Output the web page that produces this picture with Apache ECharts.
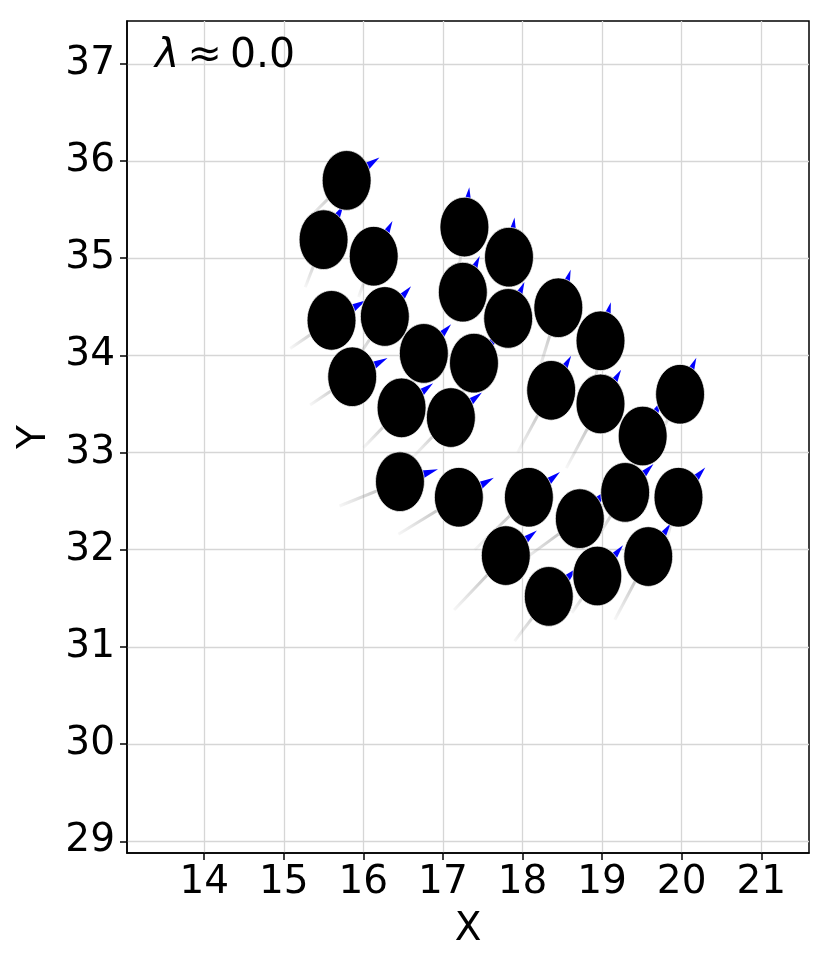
<!DOCTYPE html>
<html>
<head>
<meta charset="utf-8">
<script src="https://cdn.jsdelivr.net/npm/echarts@6/dist/echarts.min.js"></script>
<style>
  html, body { margin: 0; padding: 0; background: #fff; }
  #chart { width: 830px; height: 969px; }
</style>
</head>
<body>
<div id="chart"></div>
<script>
const agentX = [15.79, 15.50, 16.13, 17.27, 17.83, 17.25, 17.82, 18.45, 15.60, 16.27,
  16.76, 17.39, 18.98, 15.86, 18.36, 18.98, 19.98, 16.48, 17.10, 19.51,
  16.46, 17.20, 18.08, 18.72, 19.29, 19.96, 17.79, 19.58, 18.94, 18.33]
const agentY = [35.80, 35.19, 35.02, 35.32, 35.01, 34.65, 34.38, 34.49, 34.36, 34.40,
  34.02, 33.92, 34.15, 33.78, 33.64, 33.50, 33.60, 33.46, 33.36, 33.17,
  32.70, 32.54, 32.54, 32.32, 32.59, 32.54, 31.94, 31.93, 31.73, 31.52]
// heading as drawn on screen, degrees counter-clockwise from +x
const heading = [35, 60, 62, 83, 82, 65, 66, 72, 30, 49,
  47, 50, 75, 28, 60, 59, 66, 38, 39, 62,
  18, 29, 39, 46, 45, 48, 39, 56, 50, 45]
// where the faded trail behind each agent ends
const trailX = [15.30, 15.27, 15.94, 17.19, 17.80, 17.19, 17.59, 18.19, 15.08, 15.89,
  16.58, 17.21, 18.91, 15.33, 17.94, 18.55, 19.73, 16.00, 16.63, 19.35,
  15.70, 16.44, 17.40, 17.95, 18.93, 19.81, 17.14, 19.16, 18.62, 17.90]
const trailY = [35.40, 34.70, 34.60, 34.82, 34.75, 34.80, 34.05, 33.80, 34.07, 33.93,
  33.59, 33.54, 33.69, 33.49, 33.00, 32.84, 33.18, 33.05, 32.96, 32.72,
  32.45, 32.16, 32.00, 31.86, 32.11, 32.10, 31.38, 31.28, 31.35, 31.06]

const xTicks = [14, 15, 16, 17, 18, 19, 20, 21]
const yTicks = [29, 30, 31, 32, 33, 34, 35, 36, 37]
const bodyRadius = 0.307

const font = 'DejaVu Sans'
const data = agentX.map((x, i) => [x, agentY[i], heading[i], trailX[i], trailY[i]])

function renderTrail(params, api) {
  const c = api.coord([api.value(0), api.value(1)])
  const e = api.coord([api.value(3), api.value(4)])
  return {
    type: 'line',
    shape: { x1: c[0], y1: c[1], x2: e[0], y2: e[1] },
    style: {
      lineWidth: 3,
      lineCap: 'butt',
      stroke: new echarts.graphic.LinearGradient(c[0], c[1], e[0], e[1], [
        { offset: 0, color: 'rgba(150,150,150,0.8)' },
        { offset: 1, color: 'rgba(150,150,150,0.08)' },
      ], true),
    },
  }
}

function renderHead(params, api) {
  const c = api.coord([api.value(0), api.value(1)])
  const a = api.value(2) * Math.PI / 180
  const ux = Math.cos(a)
  const uy = -Math.sin(a)
  const tip = [c[0] + 40 * ux, c[1] + 40 * uy]
  const b = [c[0] + 20 * ux, c[1] + 20 * uy]
  return {
    type: 'polygon',
    shape: {
      points: [tip, [b[0] - 5 * uy, b[1] + 5 * ux], [b[0] + 5 * uy, b[1] - 5 * ux]],
    },
    style: { fill: '#0000ff' },
  }
}

function renderBody(params, api) {
  const c = api.coord([api.value(0), api.value(1)])
  const px = api.coord([api.value(0) + bodyRadius, api.value(1)])
  const py = api.coord([api.value(0), api.value(1) + bodyRadius])
  return {
    type: 'ellipse',
    shape: { cx: c[0], cy: c[1], rx: px[0] - c[0], ry: c[1] - py[1] },
    style: { fill: '#000', stroke: 'rgba(255,255,255,0.9)', lineWidth: 0.8 },
  }
}

const chart = echarts.init(document.getElementById('chart'), null, { renderer: 'canvas' })
chart.setOption({
  animation: false,
  backgroundColor: '#fff',
  title: {
    text: '{l|λ}\u2009≈\u20090.0',
    left: 150,
    top: 31,
    textStyle: {
      fontFamily: font,
      fontSize: 41,
      fontWeight: 'normal',
      color: '#000',
      rich: { l: { fontFamily: font, fontStyle: 'italic', fontSize: 41, color: '#000' } },
    },
  },
  grid: {
    left: 127, right: 21, top: 21, bottom: 116,
    show: true, borderColor: '#000', borderWidth: 1.5,
  },
  xAxis: {
    type: 'value',
    min: 13.03,
    max: 21.6,
    name: 'X',
    nameLocation: 'middle',
    nameGap: 57,
    nameTextStyle: { fontFamily: font, fontSize: 39, color: '#000' },
    axisLine: { show: true, onZero: false, lineStyle: { color: '#000', width: 1.5 } },
    axisTick: { show: true, length: 7, lineStyle: { color: '#000', width: 1.5 }, customValues: xTicks },
    axisLabel: { fontFamily: font, fontSize: 39, color: '#000', margin: 10, customValues: xTicks },
    splitLine: { show: true, lineStyle: { color: '#d6d6d6', width: 1.3 } },
  },
  yAxis: {
    type: 'value',
    min: 28.88,
    max: 37.44,
    name: 'Y',
    nameLocation: 'middle',
    nameGap: 72,
    nameTextStyle: { fontFamily: font, fontSize: 39, color: '#000' },
    axisLine: { show: true, onZero: false, lineStyle: { color: '#000', width: 1.5 } },
    axisTick: { show: true, length: 7, lineStyle: { color: '#000', width: 1.5 }, customValues: yTicks },
    axisLabel: { fontFamily: font, fontSize: 39, color: '#000', margin: 12, customValues: yTicks },
    splitLine: { show: true, lineStyle: { color: '#d6d6d6', width: 1.3 } },
  },
  series: [
    { type: 'custom', name: 'trails', renderItem: renderTrail, data, z: 3, clip: true, silent: true },
    { type: 'custom', name: 'heads', renderItem: renderHead, data, z: 4, clip: true, silent: true },
    { type: 'custom', name: 'bodies', renderItem: renderBody, data, z: 5, clip: true, silent: true },
  ],
})
</script>
</body>
</html>
